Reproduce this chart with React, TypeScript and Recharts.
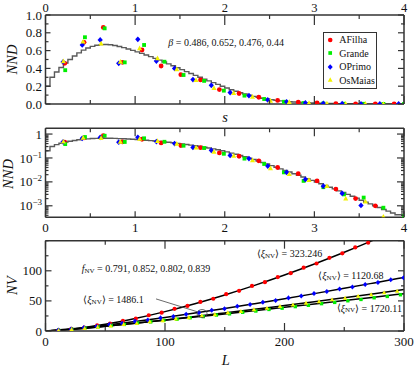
import React from "react";
import {
  ComposedChart,
  Line,
  Scatter,
  XAxis,
  YAxis,
  Legend,
  ReferenceLine,
  ReferenceDot,
} from "recharts";

const FONT = '"Liberation Serif", "Times New Roman", serif';
const FRAME = "#333";

// ---------- top two panels: nearest-neighbour spacing distribution ----------
// fitted curve, drawn as steps of width 0.05 in s
const STEP_W = 0.05;
const stepV = [
  0.2, 0.3, 0.36, 0.41, 0.46, 0.5, 0.54, 0.575, 0.605, 0.63,
  0.648, 0.66, 0.667, 0.668, 0.665, 0.657, 0.646, 0.633, 0.618, 0.602,
  0.586, 0.569, 0.551, 0.532, 0.513, 0.493, 0.472, 0.451, 0.43, 0.408,
  0.386, 0.364, 0.343, 0.322, 0.3, 0.28, 0.26, 0.24, 0.22, 0.2,
  0.18, 0.16, 0.143, 0.127, 0.112, 0.098, 0.086, 0.075, 0.065, 0.056,
  0.048, 0.041, 0.035, 0.03, 0.026, 0.022, 0.019, 0.016, 0.0135, 0.0115,
  0.0098, 0.0083, 0.0071, 0.006, 0.0051, 0.0042, 0.0036, 0.003, 0.0025, 0.0021,
  0.0017, 0.0014, 0.0012, 0.001, 0.00085, 0.0007, 0.0006, 0.0005, 0.00042, 0.00042,
];

const aFilhaS = [0.215, 0.43, 0.645, 0.858, 1.077, 1.29, 1.51, 1.73, 1.94, 2.16, 2.38, 2.59, 2.82, 3.03, 3.24, 3.46, 3.68, 3.89];
const aFilhaV = [0.457, 0.693, 0.86, 0.468, 0.607, 0.427, 0.33, 0.27, 0.162, 0.118, 0.076, 0.04, 0.022, 0.011, 0.005, 0.002, 0.001, 0];
const grandeS = [0.22, 0.44, 0.66, 0.884, 1.1, 1.327, 1.54, 1.77, 1.99, 2.22, 2.44, 2.66, 2.88, 3.1, 3.33, 3.55, 3.77, 4.0];
const grandeV = [0.38, 0.75, 0.85, 0.468, 0.663, 0.475, 0.326, 0.26, 0.15, 0.094, 0.056, 0.025, 0.011, 0.006, 0.003, 0.0022, 0.00083, 0.00037];
const oPrimoS = [0.196, 0.41, 0.61, 0.817, 1.03, 1.237, 1.44, 1.645, 1.85, 2.06, 2.27, 2.48, 2.69, 2.9, 3.1, 3.31, 3.52, 3.73, 3.94];
const oPrimoV = [0.472, 0.663, 0.72, 0.457, 0.727, 0.483, 0.4, 0.275, 0.21, 0.128, 0.094, 0.046, 0.025, 0.0126, 0.0066, 0.0033, 0.00104, 0, 0];
const osMaiasS = [0.2, 0.42, 0.62, 0.835, 1.05, 1.25, 1.465, 1.68, 1.88, 2.1, 2.31, 2.51, 2.72, 2.94, 3.14, 3.35, 3.57, 3.77];
const osMaiasV = [0.48, 0.7, 0.68, 0.475, 0.625, 0.513, 0.39, 0.27, 0.18, 0.124, 0.08, 0.037, 0.021, 0.012, 0.0066, 0.002, 0.0015, 0.00035];

const betaValues = ["0.486", "0.652", "0.476", "0.44"];

// ---------- bottom panel: NV against L ----------
const aFilhaL = [10.8, 21.6, 32.4, 43.2, 54, 64.8, 75.6, 86.4, 97.2, 108, 118.8, 129.6, 140.4, 151.2, 162, 172.8, 183.6, 194.4, 205.2, 216, 226.8, 237.6, 248.4, 259.2, 270];
const aFilhaNV = [1.2, 3.4, 5.5, 9.3, 12.2, 17.0, 20.6, 26.2, 30.4, 36.8, 41.6, 48.3, 53.6, 61.2, 66.8, 74.9, 81.1, 89.6, 96.1, 105.2, 112.1, 121.6, 129.0, 138.8, 146.6];
const oPrimoL = [10.7, 21.4, 32.1, 42.8, 53.5, 64.2, 74.9, 85.6, 96.3, 107, 117.7, 128.4, 139.1, 149.8, 160.5, 171.2, 181.9, 192.6, 203.3, 214, 224.7, 235.4, 246.1, 256.8, 267.5, 278.2, 288.9, 299.6];
const oPrimoNV = [1.5, 3.1, 5.6, 7.6, 10.6, 12.7, 16.0, 18.3, 21.8, 24.2, 27.9, 30.5, 34.4, 37.1, 41.0, 43.9, 47.9, 50.8, 55.0, 58.1, 62.3, 65.5, 69.8, 73.0, 77.4, 80.6, 85.2, 88.6];
const osMaiasL = [10.9, 21.8, 32.7, 43.6, 54.5, 65.4, 76.3, 87.2, 98.1, 109, 119.9, 130.8, 141.7, 152.6, 163.5, 174.4, 185.3, 196.2, 207.1, 218, 228.9, 239.8, 250.7, 261.6, 272.5, 283.4, 294.3];
const osMaiasNV = [1.0, 2.5, 4.3, 6.5, 8.4, 11.0, 12.8, 15.6, 17.5, 20.4, 22.4, 25.4, 27.5, 30.5, 32.7, 35.7, 38.0, 41.1, 43.4, 46.6, 49.0, 52.2, 54.7, 58.0, 60.5, 63.8, 66.3];
const grandeL = [11, 22, 33, 44, 55, 66, 77, 88, 99, 110, 121, 132, 143, 154, 165, 176, 187, 198, 209, 220, 231, 242, 253, 264, 275, 286, 297];
const grandeNV = [1.3, 3.0, 5.2, 6.8, 9.1, 10.9, 13.3, 15.1, 17.6, 19.5, 22.0, 23.9, 26.5, 28.5, 31.1, 33.2, 35.8, 37.9, 40.5, 42.7, 45.4, 47.5, 50.2, 52.4, 55.2, 57.4, 60.2];

// fitted curves
const fitL = [0, 25, 50, 75, 100, 125, 150, 175, 200, 225, 250, 275, 300];
const fitAFilha = [0, 3.9, 11.1, 20.7, 32.2, 45.3, 59.9, 75.8, 93.0, 111.3, 130.8, 151.3, 172.9];
const fitOPrimo = [0, 4.0, 9.5, 15.7, 22.5, 29.8, 37.4, 45.4, 53.6, 62.1, 70.9, 79.9, 89.0];
const fitOsMaias = [0, 3.5, 8.0, 13.0, 18.4, 24.1, 30.0, 36.0, 42.3, 48.7, 55.3, 62.0, 68.8];
const fitGrande = [0, 3.4, 7.9, 12.8, 18.0, 23.2, 28.4, 33.8, 39.3, 44.9, 50.5, 56.2, 62.0];

const fNV = ["0.791", "0.852", "0.802", "0.839"];
const xiLabels = [
  { text: "1486.1", x: 83.3, y: 299.3 },
  { text: "323.246", x: 256.7, y: 253.3 },
  { text: "1120.68", x: 318.3, y: 275 },
  { text: "1720.11", x: 336.7, y: 307.7 },
];

// ticks
const sTicks = [0, 0.5, 1, 1.5, 2, 2.5, 3, 3.5, 4];
const linTicks = [0, 0.1, 0.2, 0.3, 0.4, 0.5, 0.6, 0.7, 0.8, 0.9, 1];
const logTicks = [
  0.0004, 0.0005, 0.0006, 0.0007, 0.0008, 0.0009,
  0.001, 0.002, 0.003, 0.004, 0.005, 0.006, 0.007, 0.008, 0.009,
  0.01, 0.02, 0.03, 0.04, 0.05, 0.06, 0.07, 0.08, 0.09,
  0.1, 0.2, 0.3, 0.4, 0.5, 0.6, 0.7, 0.8, 0.9, 1,
];
const lTicks = [0, 50, 100, 150, 200, 250, 300];
const nvTicks = [0, 25, 50, 75, 100, 125, 150];

type Kind = "circle" | "square" | "diamond" | "triangle";

const series = [
  { name: "AFilha", color: "#ff0000", kind: "circle" as Kind, s: aFilhaS, v: aFilhaV, L: aFilhaL, nv: aFilhaNV, fit: fitAFilha },
  { name: "Grande", color: "#00ee00", kind: "square" as Kind, s: grandeS, v: grandeV, L: grandeL, nv: grandeNV, fit: fitGrande },
  { name: "OPrimo", color: "#0000ff", kind: "diamond" as Kind, s: oPrimoS, v: oPrimoV, L: oPrimoL, nv: oPrimoNV, fit: fitOPrimo },
  { name: "OsMaias", color: "#f2f200", kind: "triangle" as Kind, s: osMaiasS, v: osMaiasV, L: osMaiasL, nv: osMaiasNV, fit: fitOsMaias },
];

const stepData = [...stepV.map((v, i) => ({ s: i * STEP_W, v })), { s: 4, v: stepV[stepV.length - 1] }];
const zipS = (s: number[], v: number[]) => s.map((x, i) => ({ s: x, v: v[i] }));
const zipL = (L: number[], nv: number[]) => L.map((x, i) => ({ L: x, nv: nv[i] }));

const Mark = ({ kind, cx, cy, color, r }: { kind: Kind; cx: number; cy: number; color: string; r: number }) => {
  if (kind === "circle") return <circle cx={cx} cy={cy} r={r} fill={color} />;
  if (kind === "square")
    return <rect x={cx - r * 0.8} y={cy - r * 0.8} width={r * 1.6} height={r * 1.6} fill={color} />;
  if (kind === "diamond")
    return (
      <polygon
        points={`${cx},${cy - r * 1.2} ${cx + r * 1.1},${cy} ${cx},${cy + r * 1.2} ${cx - r * 1.1},${cy}`}
        fill={color}
      />
    );
  return (
    <polygon
      points={`${cx},${cy - r * 1.15} ${cx + r * 1.05},${cy + r * 0.8} ${cx - r * 1.05},${cy + r * 0.8}`}
      fill={color}
    />
  );
};

type Side = "top" | "bottom" | "left" | "right";
const near = (a: number, b: number) => Math.abs(a - b) < 1e-6;
const every = (step: number) => (v: number) => near(v / step, Math.round(v / step));
const isDecade = (v: number) => near(Math.log10(v), Math.round(Math.log10(v)));

const makeTick =
  (side: Side, isMajor: (v: number) => boolean, majorLen: number, minorLen: number, fmt?: (v: number) => React.ReactNode) =>
  (p: any) => {
    const v = p.payload.value;
    const major = isMajor(v);
    const len = major ? majorLen : minorLen;
    const { x, y } = p;
    let line;
    let label = null;
    if (side === "top") {
      line = <line x1={x} x2={x} y1={y} y2={y + len} />;
      if (fmt && major) label = <text x={x} y={y - 3.5} textAnchor="middle">{fmt(v)}</text>;
    } else if (side === "bottom") {
      line = <line x1={x} x2={x} y1={y} y2={y - len} />;
      if (fmt && major) label = <text x={x} y={y + 14.5} textAnchor="middle">{fmt(v)}</text>;
    } else if (side === "left") {
      line = <line x1={x} x2={x + len} y1={y} y2={y} />;
      if (fmt && major)
        label = (
          <text x={x - 3.5} y={y} dy="0.35em" textAnchor="end">
            {fmt(v)}
          </text>
        );
    } else {
      line = <line x1={x} x2={x - len} y1={y} y2={y} />;
    }
    return (
      <g>
        <g stroke={FRAME} strokeWidth={1.2}>{line}</g>
        {label && (
          <g fill="#111" fontSize={side === "top" ? 12.5 : 13} fontFamily={FONT}>
            {label}
          </g>
        )}
      </g>
    );
  };

const logLabel = (v: number) => {
  const e = Math.round(Math.log10(v));
  if (e === 0) return "1";
  return (
    <>
      <tspan>10</tspan>
      <tspan dy={-5} fontSize={9}>{`\u2212${-e}`}</tspan>
    </>
  );
};

const axisLine = { stroke: FRAME, strokeWidth: 1.5 };

const LegendBox = (props: any) => (
  <div
    style={{
      border: `1.5px solid ${FRAME}`,
      background: "#fff",
      width: 54,
      height: 57,
      boxSizing: "border-box",
      paddingTop: 0.5,
      fontFamily: FONT,
      fontSize: 10,
      color: "#111",
    }}
  >
    {(props.payload || []).map((e: any) => {
      const sr = series.find((d) => d.name === e.value);
      if (!sr) return null;
      return (
        <div key={e.value} style={{ display: "flex", alignItems: "center", height: 13.4 }}>
          <svg width={14} height={10} style={{ flex: "none" }}>
            <Mark kind={sr.kind} cx={6.2} cy={5} color={sr.color} r={2.3} />
          </svg>
          <span style={{ marginLeft: 1 }}>{e.value}</span>
        </div>
      );
    })}
  </div>
);

const NNDPanel = ({ log }: { log: boolean }) => {
  const yProps = log
    ? { scale: "log" as const, domain: [0.00033, 1.74], ticks: logTicks }
    : { domain: [0, 1], ticks: linTicks };
  const yMajor = log ? isDecade : every(0.2);
  return (
    <ComposedChart
      width={415}
      height={122}
      margin={log ? { top: 4.3, bottom: 20.7, left: 41.5, right: 7 } : { top: 11, bottom: 14, left: 41.5, right: 7 }}
      style={{ fontFamily: FONT }}
    >
      <XAxis
        xAxisId="b"
        dataKey="s"
        type="number"
        domain={[0, 4]}
        ticks={sTicks}
        allowDataOverflow
        interval={0}
        height={4}
        tickSize={0}
        tickMargin={0}
        tickLine={false}
        axisLine={axisLine}
        tick={makeTick("bottom", every(1), log ? 6 : 8, 4, log ? (v) => String(v) : undefined)}
      />
      <XAxis
        xAxisId="t"
        orientation="top"
        dataKey="s"
        type="number"
        domain={[0, 4]}
        ticks={sTicks}
        allowDataOverflow
        interval={0}
        height={4}
        tickSize={0}
        tickMargin={0}
        tickLine={false}
        axisLine={axisLine}
        tick={makeTick("top", every(1), log ? 8 : 10, 4, log ? undefined : (v) => String(v))}
      />
      <YAxis
        yAxisId="l"
        type="number"
        {...yProps}
        allowDataOverflow
        interval={0}
        width={4}
        tickSize={0}
        tickMargin={0}
        tickLine={false}
        axisLine={axisLine}
        tick={makeTick("left", yMajor, log ? 7 : 5, 3, log ? logLabel : (v) => v.toFixed(1))}
      />
      <YAxis
        yAxisId="r"
        orientation="right"
        type="number"
        {...yProps}
        allowDataOverflow
        interval={0}
        width={4}
        tickSize={0}
        tickMargin={0}
        tickLine={false}
        axisLine={axisLine}
        tick={makeTick("right", yMajor, log ? 7 : 6, 3)}
      />
      <Line
        xAxisId="b"
        yAxisId="l"
        data={stepData}
        dataKey="v"
        type="stepAfter"
        dot={false}
        stroke="#5a5a5a"
        strokeWidth={1.4}
        legendType="none"
        isAnimationActive={false}
      />
      {series.map((sr) => (
        <Scatter
          key={sr.name}
          name={sr.name}
          xAxisId="b"
          yAxisId="l"
          data={log ? zipS(sr.s, sr.v).filter((d) => d.v > 0) : zipS(sr.s, sr.v)}
          dataKey="v"
          fill={sr.color}
          isAnimationActive={false}
          shape={(p: any) => <Mark kind={sr.kind} cx={p.cx} cy={p.cy} color={sr.color} r={2.4} />}
        />
      ))}
      {!log && (
        <Legend
          layout="vertical"
          align="center"
          verticalAlign="middle"
          content={LegendBox}
          wrapperStyle={{ left: 323.3, top: 31.7, width: 54, height: 57 }}
        />
      )}
    </ComposedChart>
  );
};

const NVPanel = () => (
  <ComposedChart width={415} height={130} margin={{ top: 0.7, bottom: 31, left: 41.5, right: 7 }} style={{ fontFamily: FONT }}>
    <XAxis
      xAxisId="b"
      dataKey="L"
      type="number"
      domain={[0, 300]}
      ticks={lTicks}
      allowDataOverflow
      interval={0}
      height={4}
      tickSize={0}
      tickMargin={0}
      tickLine={false}
      axisLine={axisLine}
      tick={makeTick("bottom", every(100), 8, 4, (v) => String(v))}
    />
    <XAxis
      xAxisId="t"
      orientation="top"
      dataKey="L"
      type="number"
      domain={[0, 300]}
      ticks={lTicks}
      allowDataOverflow
      interval={0}
      height={4}
      tickSize={0}
      tickMargin={0}
      tickLine={false}
      axisLine={axisLine}
      tick={makeTick("top", every(100), 8, 4)}
    />
    <YAxis
      yAxisId="l"
      type="number"
      domain={[0, 150]}
      ticks={nvTicks}
      allowDataOverflow
      interval={0}
      width={4}
      tickSize={0}
      tickMargin={0}
      tickLine={false}
      axisLine={axisLine}
      tick={makeTick("left", (v) => v === 0 || v === 50 || v === 100, 6, 3, (v) => String(v))}
    />
    <YAxis
      yAxisId="r"
      orientation="right"
      type="number"
      domain={[0, 150]}
      ticks={nvTicks}
      allowDataOverflow
      interval={0}
      width={4}
      tickSize={0}
      tickMargin={0}
      tickLine={false}
      axisLine={axisLine}
      tick={makeTick("right", every(50), 6, 3)}
    />
    {series.map((sr) => (
      <Line
        key={`fit-${sr.name}`}
        xAxisId="b"
        yAxisId="l"
        data={zipL(fitL, sr.fit)}
        dataKey="nv"
        type="monotone"
        dot={false}
        stroke="#000"
        strokeWidth={1.5}
        legendType="none"
        isAnimationActive={false}
      />
    ))}
    {series.map((sr) => (
      <Scatter
        key={sr.name}
        name={sr.name}
        xAxisId="b"
        yAxisId="l"
        data={zipL(sr.L, sr.nv)}
        dataKey="nv"
        fill={sr.color}
        isAnimationActive={false}
        shape={(p: any) => <Mark kind={sr.kind} cx={p.cx} cy={p.cy} color={sr.color} r={2.1} />}
      />
    ))}
    <ReferenceLine
      xAxisId="b"
      yAxisId="l"
      segment={[
        { x: 92.5, y: 53.3 },
        { x: 127, y: 32 },
      ]}
      stroke="#444"
      strokeWidth={0.8}
    />
    <ReferenceDot
      xAxisId="b"
      yAxisId="l"
      x={131}
      y={29}
      shape={(p: any) => <ellipse cx={p.cx} cy={p.cy} rx={5} ry={4} fill="none" stroke="#444" strokeWidth={0.8} />}
    />
  </ComposedChart>
);

const Sub = ({ children }: { children: React.ReactNode }) => (
  <tspan fontSize={7} dy={2.5}>
    {children}
  </tspan>
);

const Overlay = () => (
  <svg
    width={415}
    height={366}
    style={{ position: "absolute", left: 0, top: 0, pointerEvents: "none", fontFamily: FONT }}
  >
    <g fontStyle="italic" fontSize={14.5} fill="#111" textAnchor="middle" dominantBaseline="central">
      <text transform="translate(12,59.5) rotate(-90)">NND</text>
      <text transform="translate(7.5,174) rotate(-90)">NND</text>
      <text transform="translate(11.7,285.7) rotate(-90)">NV</text>
      <text x={225} y={116.7}>s</text>
      <text x={225.7} y={359.5}>L</text>
    </g>
    <g fontSize={10} fill="#111" dominantBaseline="central">
      <text x={168.3} y={42.3}>
        <tspan fontStyle="italic">β</tspan>
        {` = ${betaValues.join(", ")}`}
      </text>
      <text x={81.7} y={268.3}>
        <tspan fontStyle="italic">f</tspan>
        <Sub>NV</Sub>
        <tspan dy={-2.5}>{` = ${fNV.join(", ")}`}</tspan>
      </text>
      {xiLabels.map((d) => (
        <text key={d.text} x={d.x} y={d.y}>
          {"\u27e8"}
          <tspan fontStyle="italic">ξ</tspan>
          <Sub>NV</Sub>
          <tspan dy={-2.5}>{`\u27e9 = ${d.text}`}</tspan>
        </text>
      ))}
    </g>
  </svg>
);

const App = () => (
  <div style={{ position: "absolute", left: 0, top: 0, width: 415, height: 366, background: "#fff" }}>
    <div style={{ position: "absolute", left: 0, top: 0 }}>
      <NNDPanel log={false} />
    </div>
    <div style={{ position: "absolute", left: 0, top: 120 }}>
      <NNDPanel log={true} />
    </div>
    <div style={{ position: "absolute", left: 0, top: 236 }}>
      <NVPanel />
    </div>
    <Overlay />
  </div>
);

export default App;
